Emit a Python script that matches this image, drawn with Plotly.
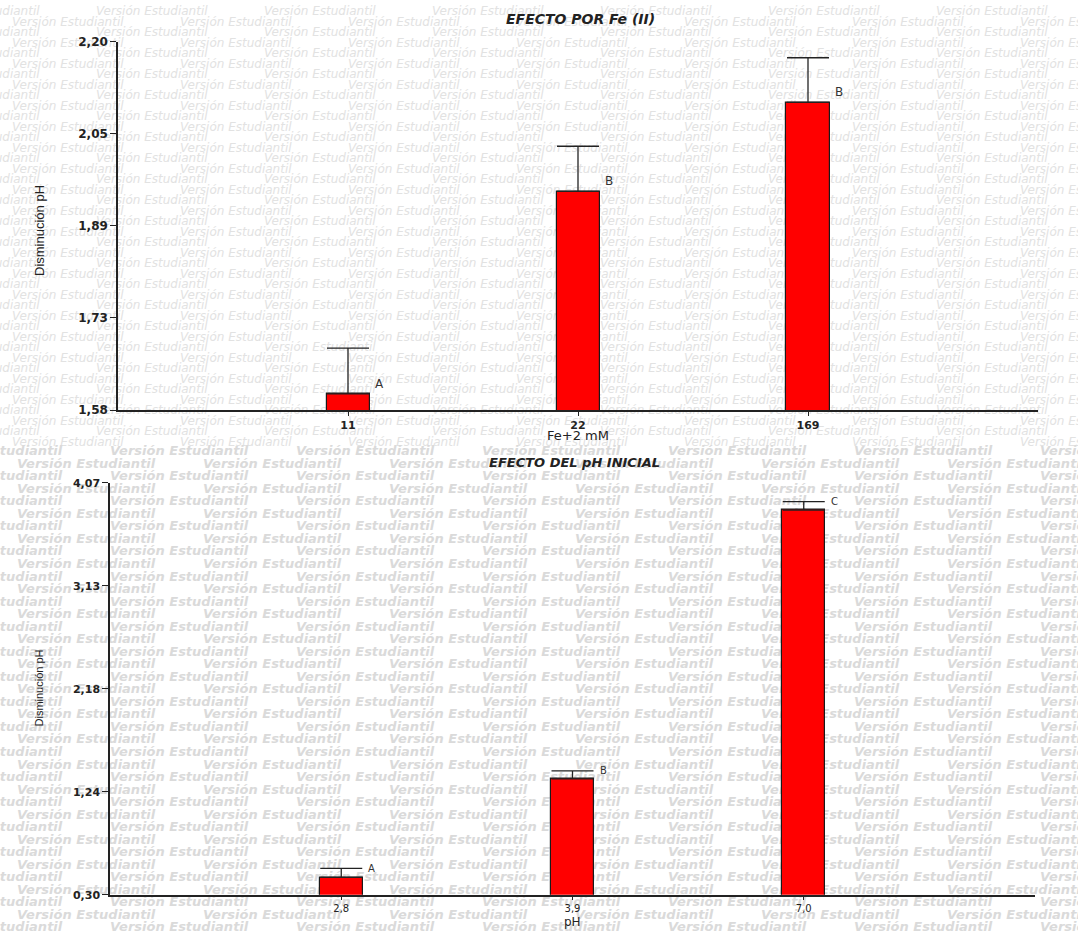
import plotly.graph_objects as go

# --- Effect of Fe(II) concentration ---
fe_labels = ["11", "22", "169"]
fe_means = [1.607, 1.948, 2.098]
fe_err = [0.077, 0.076, 0.075]
fe_groups = ["A", "B", "B"]
fe_tickvals = [1.58, 1.735, 1.89, 2.045, 2.20]
fe_ticktext = ["1,58", "1,73", "1,89", "2,05", "2,20"]

# --- Effect of initial pH ---
ph_labels = ["2,8", "3,9", "7,0"]
ph_means = [0.460, 1.360, 3.820]
ph_err = [0.082, 0.074, 0.077]
ph_groups = ["A", "B", "C"]
ph_tickvals = [0.30, 1.2425, 2.185, 3.1275, 4.07]
ph_ticktext = ["0,30", "1,24", "2,18", "3,13", "4,07"]

W, H = 1078, 938
WM_TEXT = "Versión Estudiantil"
AXIS_COLOR = "#222222"
TEXT_COLOR = "#222222"


def watermark(y_start, dy, y_stop, x_start, period):
    """Staggered rows of the licence watermark, in page pixels."""
    xs, ys = [], []
    k = 0
    y = y_start
    while y <= y_stop:
        x = x_start - period / 2 if k % 2 == 0 else x_start
        while x < W:
            xs.append(x)
            ys.append(y)
            x += period
        k += 1
        y = y_start + k * dy
    return xs, ys


fig = go.Figure()

# background watermark on a full-page pixel subplot (drawn first, below the bars)
wx1, wy1 = watermark(12, 10.5, 446, 12, 168)
fig.add_trace(go.Scatter(
    x=wx1, y=wy1, mode="text", text=[WM_TEXT] * len(wx1),
    textposition="middle right",
    textfont=dict(family="DejaVu Sans", size=12, color="#e2e2e2", style="italic"),
    hoverinfo="skip", showlegend=False, xaxis="x", yaxis="y",
))
wx2, wy2 = watermark(452, 12.53, 936, 17, 186)
fig.add_trace(go.Scatter(
    x=wx2, y=wy2, mode="text", text=[WM_TEXT] * len(wx2),
    textposition="middle right",
    textfont=dict(family="DejaVu Sans", size=13, color="#dadada",
                  style="italic", weight="bold"),
    hoverinfo="skip", showlegend=False, xaxis="x", yaxis="y",
))

bar_style = dict(marker=dict(color="#ff0000", line=dict(color="#1a1a1a", width=1.2)),
                 width=0.187, showlegend=False, hoverinfo="skip")

fig.add_trace(go.Bar(
    x=fe_labels, y=fe_means, xaxis="x2", yaxis="y2",
    error_y=dict(type="data", symmetric=False, array=fe_err,
                 arrayminus=[0] * len(fe_err), color="#222222",
                 thickness=1.3, width=21),
    **bar_style,
))
fig.add_trace(go.Bar(
    x=ph_labels, y=ph_means, xaxis="x3", yaxis="y3",
    error_y=dict(type="data", symmetric=False, array=ph_err,
                 arrayminus=[0] * len(ph_err), color="#222222",
                 thickness=1.3, width=21),
    **bar_style,
))

axis_common = dict(showline=True, linecolor=AXIS_COLOR, linewidth=1.5,
                   showgrid=False, zeroline=False, ticks="outside",
                   tickcolor=AXIS_COLOR, tickwidth=1.2, fixedrange=True,
                   automargin=False)

annotations = []
# group letters beside each bar (x given as category index)
for i, (m, g) in enumerate(zip(fe_means, fe_groups)):
    annotations.append(dict(x=i, y=m, xref="x2", yref="y2", text=g,
                            showarrow=False, xanchor="left", yanchor="bottom",
                            xshift=25, yshift=1,
                            font=dict(family="DejaVu Sans", size=12, color="#333333")))
for i, (m, g) in enumerate(zip(ph_means, ph_groups)):
    annotations.append(dict(x=i, y=m, xref="x3", yref="y3", text=g,
                            showarrow=False, xanchor="left", yanchor="bottom",
                            xshift=25, yshift=1,
                            font=dict(family="DejaVu Sans", size=10, color="#333333")))

# panel titles
annotations.append(dict(x=580 / W, y=1 - 19 / H, xref="paper", yref="paper",
                        text="<b><i>EFECTO POR Fe (II)</i></b>", showarrow=False,
                        xanchor="center", yanchor="middle",
                        font=dict(family="DejaVu Sans", size=14, color=TEXT_COLOR)))
annotations.append(dict(x=574 / W, y=1 - 463 / H, xref="paper", yref="paper",
                        text="<b><i>EFECTO DEL pH INICIAL</i></b>", showarrow=False,
                        xanchor="center", yanchor="middle",
                        font=dict(family="DejaVu Sans", size=13, color=TEXT_COLOR)))
# axis titles
annotations.append(dict(x=578 / W, y=1 - 435 / H, xref="paper", yref="paper",
                        text="Fe+2 mM", showarrow=False, xanchor="center",
                        yanchor="middle",
                        font=dict(family="DejaVu Sans", size=13, color=TEXT_COLOR)))
annotations.append(dict(x=572 / W, y=1 - 922 / H, xref="paper", yref="paper",
                        text="pH", showarrow=False, xanchor="center",
                        yanchor="middle",
                        font=dict(family="DejaVu Sans", size=12, color=TEXT_COLOR)))
annotations.append(dict(x=40 / W, y=1 - 231 / H, xref="paper", yref="paper",
                        text="Disminución pH", showarrow=False, textangle=-90,
                        xanchor="center", yanchor="middle",
                        font=dict(family="Liberation Sans Narrow, Arial Narrow, Liberation Sans",
                                  size=13, color=TEXT_COLOR)))
annotations.append(dict(x=38.5 / W, y=1 - 688 / H, xref="paper", yref="paper",
                        text="Disminución pH", showarrow=False, textangle=-90,
                        xanchor="center", yanchor="middle",
                        font=dict(family="Liberation Sans Narrow, Arial Narrow, Liberation Sans",
                                  size=11, color=TEXT_COLOR)))

fig.update_layout(
    width=W, height=H, autosize=False,
    margin=dict(l=0, r=0, t=0, b=0, pad=0),
    paper_bgcolor="white", plot_bgcolor="rgba(0,0,0,0)",
    bargap=0, showlegend=False,
    xaxis=dict(domain=[0, 1], range=[0, W], visible=False, fixedrange=True,
               automargin=False),
    yaxis=dict(domain=[0, 1], range=[H, 0], visible=False, fixedrange=True,
               automargin=False),
    xaxis2=dict(domain=[118 / W, 1038 / W], anchor="y2", type="category",
                range=[-1, 3], ticklen=4,
                tickfont=dict(family="DejaVu Sans", size=11, color=TEXT_COLOR, weight="bold"),
                **axis_common),
    yaxis2=dict(domain=[1 - 410 / H, 1 - 41.7 / H], anchor="x2",
                range=[1.58, 2.20], tickvals=fe_tickvals, ticktext=fe_ticktext,
                ticklen=6,
                tickfont=dict(family="DejaVu Sans", size=12, color=TEXT_COLOR, weight="bold"),
                **axis_common),
    xaxis3=dict(domain=[110 / W, 1035 / W], anchor="y3", type="category",
                range=[-1, 3], ticklen=3,
                tickfont=dict(family="DejaVu Sans", size=10, color=TEXT_COLOR),
                **axis_common),
    yaxis3=dict(domain=[1 - 894.8 / H, 1 - 482.7 / H], anchor="x3",
                range=[0.30, 4.07], tickvals=ph_tickvals, ticktext=ph_ticktext,
                ticklen=6,
                tickfont=dict(family="DejaVu Sans", size=11, color=TEXT_COLOR, weight="bold"),
                **axis_common),
    annotations=annotations,
)

fig.write_html("out.html")
